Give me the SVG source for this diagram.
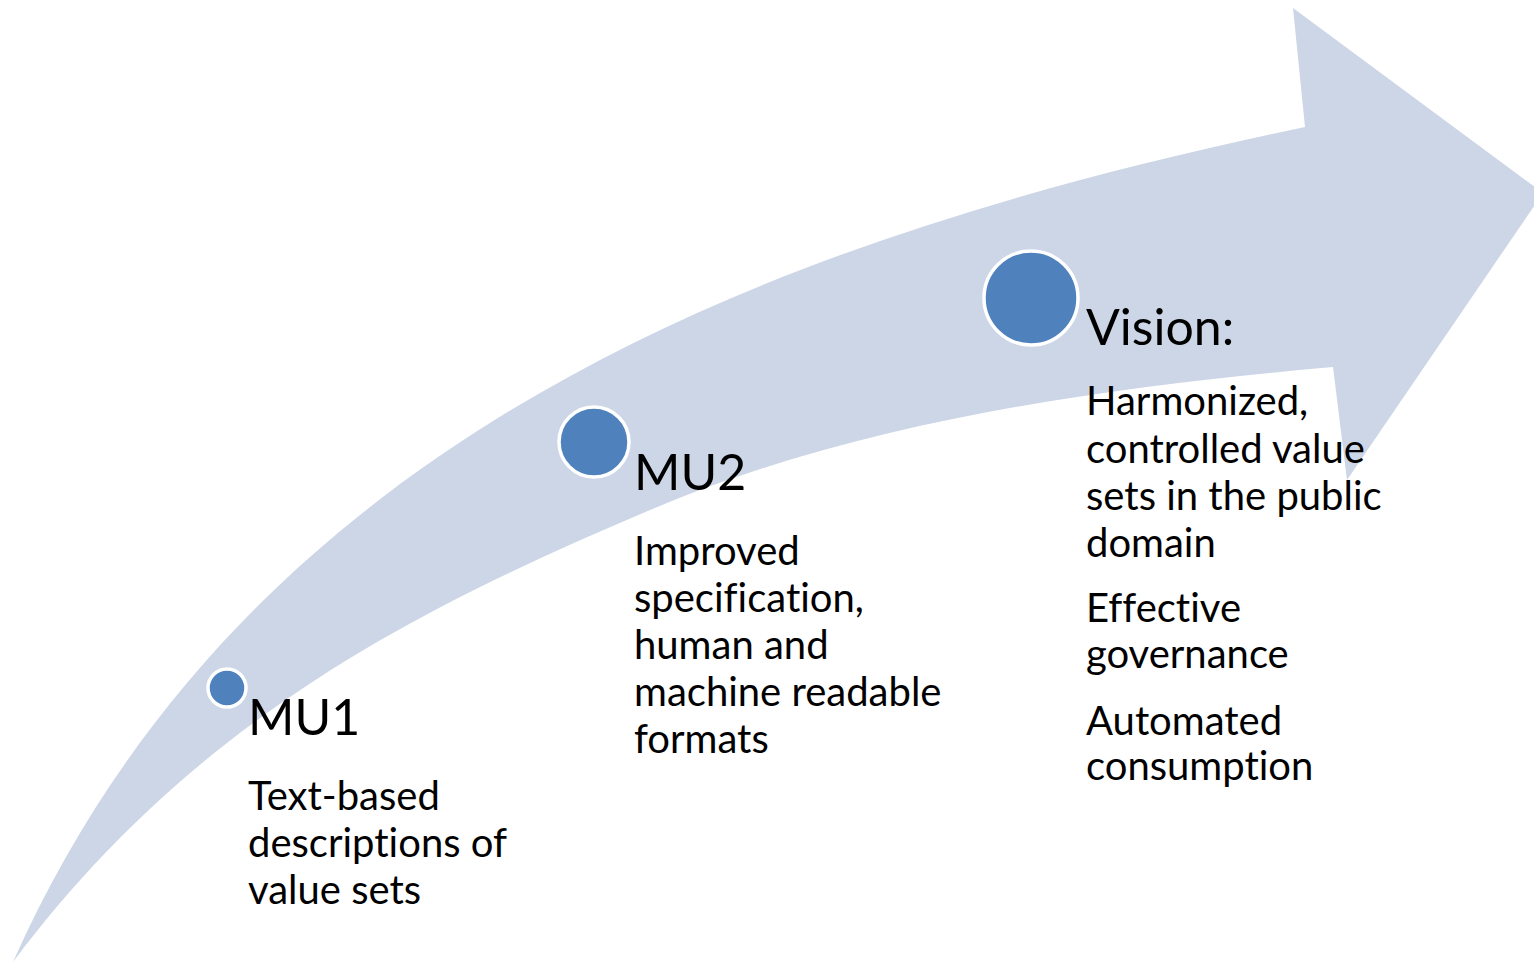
<svg xmlns="http://www.w3.org/2000/svg" width="1534" height="963" viewBox="0 0 1534 963">
  <style>
    text { font-family: Lato, "Open Sans", "Liberation Sans", sans-serif; fill: #000; font-variant-ligatures: none; font-feature-settings: "liga" 0, "clig" 0; }
    .title { font-size: 50px; }
    .body { font-size: 40px; }
    .dot { fill: #4F81BD; stroke: #FFFFFF; stroke-width: 3.5; }
  </style>
  <rect x="0" y="0" width="1534" height="963" fill="#FFFFFF"/>
  <g id="connectors">
    <path id="arrow" d="M13,962 C257,414 816,230 1305,127 L1293,8 L1543,193 L1347,480 L1333,367 C1106,387 860,421 650,510 C410.5,611.4 193,722 13,962 Z" fill="#CCD6E7"/>
  </g>
  <g id="node-mu1">
    <circle class="dot" cx="227" cy="688" r="19"/>
    <text class="title" x="248" y="735">MU1</text>
    <text class="body" x="248" y="810">Text-based</text>
    <text class="body" x="248" y="857">descriptions of</text>
    <text class="body" x="248" y="904">value sets</text>
  </g>
  <g id="node-mu2">
    <circle class="dot" cx="594" cy="442" r="35"/>
    <text class="title" x="634" y="490">MU2</text>
    <text class="body" x="634" y="565">Improved</text>
    <text class="body" x="634" y="612">specification,</text>
    <text class="body" x="634" y="659">human and</text>
    <text class="body" x="634" y="706">machine readable</text>
    <text class="body" x="634" y="753">formats</text>
  </g>
  <g id="node-vision">
    <circle class="dot" cx="1031" cy="298" r="47"/>
    <text class="title" x="1086" y="345">Vision:</text>
    <text class="body" x="1086" y="415">Harmonized,</text>
    <text class="body" x="1086" y="463">controlled value</text>
    <text class="body" x="1086" y="510">sets in the public</text>
    <text class="body" x="1086" y="557">domain</text>
    <text class="body" x="1086" y="622">Effective</text>
    <text class="body" x="1086" y="668">governance</text>
    <text class="body" x="1086" y="735">Automated</text>
    <text class="body" x="1086" y="780">consumption</text>
  </g>
</svg>
